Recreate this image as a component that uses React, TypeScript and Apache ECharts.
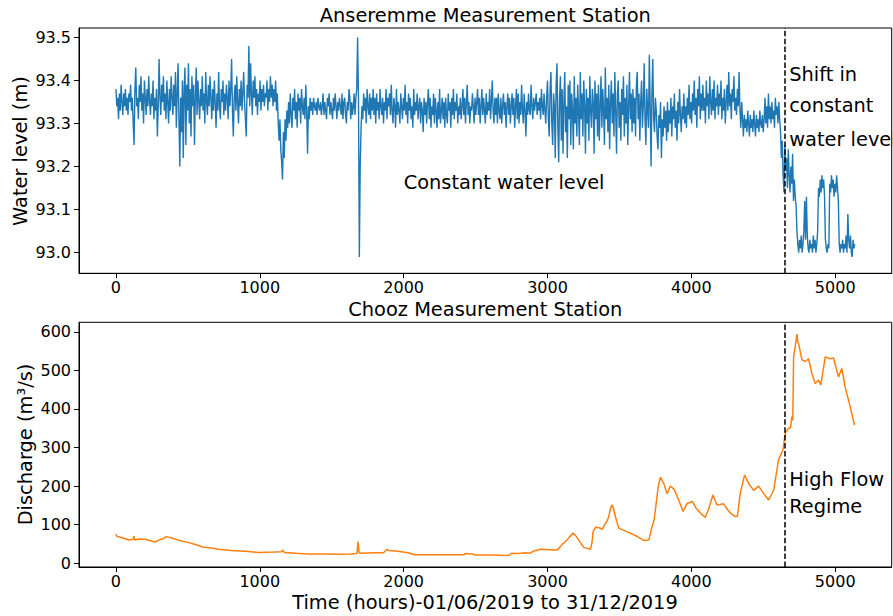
import React, { useEffect, useRef } from "react";
import * as echarts from "echarts";

// ---- axis ticks ----
const X_TICKS = [0, 1000, 2000, 3000, 4000, 5000];
const LEVEL_TICKS = [93.0, 93.1, 93.2, 93.3, 93.4, 93.5];
const DISCHARGE_TICKS = [0, 100, 200, 300, 400, 500, 600];

// ---- axis extents ----
const X_MIN = -256.8;
const X_MAX = 5392.8;
const LEVEL_MIN = 92.952;
const LEVEL_MAX = 93.522;
const DISCHARGE_MIN = -9.8;
const DISCHARGE_MAX = 624.5;

// ---- Anseremme water level (m), one reading every 6 hours from hour 0 ----
const SAMPLE_HOURS = 6;
const LEVEL_M = [
  // 0
  93.38,93.34,93.36,93.31,93.37,93.33,93.39,93.35,93.32,93.37,93.34,93.38,93.33,93.36,93.32,93.37,93.35,93.39,93.33,93.36,
  // 120
  93.30,93.25,93.38,93.43,93.34,93.36,93.31,93.39,93.35,93.41,93.33,93.37,93.30,93.40,93.36,93.32,93.38,93.34,93.41,93.35,
  // 240
  93.32,93.37,93.34,93.40,93.31,93.36,93.33,93.38,93.27,93.34,93.45,93.36,93.32,93.39,93.35,93.41,93.33,93.37,93.31,93.40,
  // 360
  93.35,93.30,93.38,93.33,93.41,93.36,93.32,93.39,93.34,93.42,93.29,93.37,93.44,93.31,93.20,93.36,93.28,93.40,93.22,93.38,
  // 480
  93.43,93.25,93.39,93.33,93.44,93.30,93.38,93.27,93.41,93.34,93.39,93.25,93.36,93.43,93.32,93.40,93.35,93.31,93.38,93.34,
  // 600
  93.41,93.33,93.37,93.30,93.42,93.35,93.32,93.39,93.34,93.41,93.36,93.31,93.38,93.33,93.40,93.35,93.29,93.37,93.33,93.42,
  // 720
  93.34,93.31,93.38,93.35,93.40,93.32,93.37,93.33,93.39,93.36,93.31,93.40,93.34,93.38,93.45,93.33,93.27,93.36,93.39,93.33,
  // 840
  93.41,93.35,93.30,93.38,93.34,93.40,93.33,93.37,93.42,93.35,93.31,93.27,93.39,93.36,93.48,93.34,93.44,93.37,93.32,93.40,
  // 960
  93.36,93.41,93.34,93.38,93.32,93.37,93.35,93.40,93.33,93.38,93.35,93.39,93.34,93.37,93.36,93.40,93.33,93.38,93.35,93.41,
  // 1080
  93.36,93.39,93.34,93.38,93.35,93.40,93.33,93.37,93.30,93.26,93.31,93.24,93.21,93.17,93.28,93.22,93.31,93.26,93.33,93.29,
  // 1200
  93.35,93.30,93.37,93.32,93.29,93.36,93.33,93.38,93.31,93.35,93.29,93.37,93.33,93.36,93.30,93.38,93.34,93.32,93.36,93.31,
  // 1320
  93.39,93.33,93.23,93.34,93.31,93.36,93.33,93.35,93.32,93.36,93.34,93.33,93.35,93.32,93.36,93.34,93.33,93.35,93.32,93.34,
  // 1440
  93.37,93.32,93.35,93.33,93.31,93.36,93.34,93.37,93.32,93.35,93.33,93.31,93.36,93.33,93.37,93.34,93.31,93.35,93.33,93.36,
  // 1560
  93.34,93.32,93.37,93.31,93.35,93.36,93.32,93.30,93.35,93.33,93.38,93.36,93.31,93.35,93.32,93.34,93.37,93.32,93.36,93.38,
  // 1680
  93.50,93.36,92.99,93.20,93.29,93.34,93.31,93.37,93.33,93.36,93.30,93.38,93.34,93.32,93.37,93.31,93.36,93.33,93.38,93.32,
  // 1800
  93.36,93.30,93.37,93.33,93.35,93.31,93.38,93.34,93.32,93.36,93.30,93.35,93.33,93.38,93.31,93.36,93.34,93.37,93.32,93.39,
  // 1920
  93.33,93.30,93.36,93.34,93.29,93.38,93.32,93.35,93.33,93.30,93.37,93.34,93.31,93.36,93.33,93.39,93.32,93.35,93.30,93.37,
  // 2040
  93.33,93.36,93.31,93.34,93.29,93.38,93.32,93.35,93.33,93.37,93.31,93.34,93.36,93.30,93.35,93.33,93.28,93.36,93.32,93.35,
  // 2160
  93.30,93.35,93.38,93.31,93.36,93.29,93.34,93.32,93.37,93.30,93.36,93.33,93.29,93.35,93.31,93.38,93.30,93.33,93.36,93.31,
  // 2280
  93.35,93.29,93.36,93.32,93.30,93.37,93.33,93.35,93.29,93.36,93.32,93.38,93.31,93.35,93.33,93.37,93.30,93.34,93.32,93.36,
  // 2400
  93.31,93.34,93.38,93.32,93.36,93.30,93.35,93.39,93.32,93.35,93.30,93.34,93.33,93.37,93.34,93.30,93.36,93.32,93.35,93.38,
  // 2520
  93.32,93.36,93.30,93.34,93.38,93.32,93.36,93.33,93.30,93.37,93.32,93.35,93.33,93.38,93.31,93.35,93.40,93.33,93.30,93.36,
  // 2640
  93.32,93.36,93.30,93.37,93.33,93.31,93.36,93.30,93.34,93.37,93.32,93.35,93.29,93.34,93.37,93.32,93.36,93.30,93.34,93.37,
  // 2760
  93.32,93.36,93.29,93.34,93.38,93.31,93.37,93.30,93.35,93.32,93.39,93.33,93.30,93.37,93.33,93.27,93.35,93.32,93.37,93.33,
  // 2880
  93.32,93.39,93.34,93.31,93.36,93.33,93.35,93.37,93.32,93.35,93.33,93.36,93.31,93.38,93.34,93.32,93.37,93.33,93.30,93.36,
  // 3000
  93.40,93.31,93.27,93.38,93.42,93.30,93.25,93.37,93.34,93.22,93.39,93.44,93.29,93.21,93.36,93.41,93.26,93.38,93.23,93.35,
  // 3120
  93.42,93.28,93.34,93.22,93.39,93.31,93.40,93.25,93.37,93.33,93.24,93.41,93.30,93.36,93.27,93.39,93.33,93.25,93.42,93.31,
  // 3240
  93.37,93.27,93.40,93.34,93.23,93.38,93.30,93.36,93.26,93.41,93.33,93.29,93.38,93.35,93.23,93.40,93.31,93.37,93.27,93.39,
  // 3360
  93.26,93.34,93.41,93.29,93.38,93.33,93.25,93.43,93.31,93.36,93.28,93.39,93.24,93.35,93.40,93.30,93.37,93.27,93.42,93.33,
  // 3480
  93.23,93.37,93.40,93.29,93.35,93.26,93.38,93.32,93.41,93.27,93.36,93.30,93.39,93.25,93.34,93.42,93.31,93.37,93.28,93.38,
  // 3600
  93.30,93.36,93.27,93.39,93.42,93.31,93.37,93.26,93.35,93.40,93.29,93.34,93.44,93.31,93.25,93.38,93.33,93.29,93.46,93.34,
  // 3720
  93.20,93.37,93.45,93.31,93.28,93.36,93.33,93.27,93.24,93.32,93.29,93.35,93.22,93.31,93.27,93.34,93.29,93.33,93.26,93.35,
  // 3840
  93.28,93.33,93.30,93.36,93.27,93.34,93.31,93.37,93.29,93.33,93.26,93.35,93.30,93.38,93.32,93.28,93.34,93.31,93.37,93.30,
  // 3960
  93.34,93.29,93.36,93.32,93.39,93.31,93.35,93.30,93.37,93.33,93.40,93.32,93.36,93.29,93.38,93.34,93.41,93.31,93.37,93.33,
  // 4080
  93.39,93.33,93.36,93.30,93.40,93.34,93.37,93.31,93.41,93.35,93.32,93.38,93.33,93.40,93.31,93.36,93.34,93.39,93.32,93.37,
  // 4200
  93.34,93.40,93.31,93.36,93.33,93.38,93.30,93.35,93.39,93.33,93.42,93.34,93.37,93.31,93.38,93.35,93.41,93.33,93.36,93.32,
  // 4320
  93.38,93.34,93.42,93.33,93.29,93.35,93.31,93.27,93.32,93.29,93.31,93.28,93.33,93.30,93.27,93.32,93.29,93.31,93.28,93.33,
  // 4440
  93.30,93.27,93.32,93.29,93.31,93.28,93.33,93.30,93.29,93.32,93.28,93.31,93.36,93.30,93.34,93.29,93.37,93.31,93.34,93.30,
  // 4560
  93.35,93.31,93.33,93.29,93.36,93.32,93.34,93.30,93.35,93.31,93.28,93.22,93.26,93.18,93.14,93.25,93.19,93.22,93.15,93.24,
  // 4680
  93.18,93.14,93.20,93.16,93.23,93.12,93.17,93.13,93.11,93.05,93.02,93.00,93.03,93.01,93.04,93.00,93.02,93.05,93.12,93.03,
  // 4800
  93.13,93.04,93.01,93.00,93.03,93.01,93.02,93.00,93.04,93.01,93.03,93.00,93.02,93.05,93.15,93.13,93.17,93.14,93.18,93.15,
  // 4920
  93.17,93.13,93.03,93.01,93.00,93.02,93.01,93.16,93.14,93.18,93.15,93.17,93.13,93.16,93.14,93.18,93.15,93.12,93.02,93.00,
  // 5040
  93.02,93.01,93.03,93.00,93.02,93.01,93.04,93.00,93.09,93.03,93.01,93.04,93.00,92.99,93.03,93.01,93.02,
];

// ---- Chooz discharge (m3/s): [hour, value] ----
const DISCHARGE = [
  [0,76],[6,70],[24,68],[60,64],[90,60],[120,62],[126,70],[132,60],[160,63],[200,62],[240,58],[270,55],
  [300,60],[330,64],[350,69],[370,67],[400,64],[450,58],[500,54],[540,50],[576,46],[600,42],[650,40],
  [715,36],[800,33],[900,31],[993,28],[1100,29],[1150,30],[1160,34],[1170,28],[1250,26],[1340,24],
  [1450,24],[1550,23],[1630,24],[1675,25],[1683,56],[1690,28],[1700,26],[1800,27],[1860,27],[1884,36],
  [1900,33],[1960,31],[2030,27],[2076,22],[2200,22],[2300,22],[2420,22],[2428,25],[2480,24],[2497,21],
  [2600,21],[2729,20],[2752,26],[2800,25],[2845,27],[2880,26],[2900,31],[2951,36],[3020,35],[3066,34],
  [3090,43],[3105,50],[3125,56],[3150,67],[3178,78],[3195,72],[3217,60],[3252,41],[3299,36],[3310,55],
  [3317,82],[3333,93],[3360,92],[3380,88],[3403,104],[3415,110],[3426,121],[3440,145],[3449,151],
  [3460,140],[3472,121],[3495,91],[3530,85],[3576,78],[3620,70],[3669,59],[3704,60],[3727,95],[3740,110],
  [3750,138],[3770,200],[3785,223],[3796,215],[3808,207],[3831,180],[3854,200],[3870,195],[3882,190],
  [3912,164],[3942,134],[3970,155],[4009,160],[4030,144],[4063,130],[4097,119],[4120,140],[4150,177],
  [4178,151],[4200,152],[4225,154],[4250,140],[4271,130],[4306,121],[4320,122],[4340,181],[4370,229],
  [4398,207],[4433,189],[4468,200],[4502,181],[4537,164],[4560,180],[4572,189],[4590,230],[4606,268],
  [4637,294],[4653,337],[4676,350],[4690,352],[4699,380],[4705,370],[4711,535],[4722,561],[4734,594],
  [4740,575],[4745,570],[4769,527],[4792,523],[4815,530],[4838,492],[4861,466],[4884,475],[4900,462],
  [4931,535],[4965,530],[4988,532],[5023,483],[5046,505],[5069,457],[5104,406],[5134,358],
];

const REGIME_SHIFT_HOUR = 4650;

const FONT = "DejaVu Sans";
const TXT = 19.4;
const TICK = 16;

function axisX(gridIndex: number) {
  return {
    type: "value",
    gridIndex,
    min: X_MIN,
    max: X_MAX,
    splitLine: { show: false },
    axisLine: { show: true, onZero: false, lineStyle: { color: "#000", width: 1 } },
    axisTick: { show: true, length: 5, lineStyle: { color: "#000", width: 1 }, customValues: X_TICKS },
    axisLabel: {
      color: "#000",
      fontSize: TICK,
      fontFamily: FONT,
      margin: 6,
      customValues: X_TICKS,
      formatter: (v: number) => String(v),
    },
  };
}

function axisY(gridIndex: number, min: number, max: number, ticks: number[], digits: number) {
  return {
    type: "value",
    gridIndex,
    min,
    max,
    splitLine: { show: false },
    axisLine: { show: true, onZero: false, lineStyle: { color: "#000", width: 1 } },
    axisTick: { show: true, length: 5, lineStyle: { color: "#000", width: 1 }, customValues: ticks },
    axisLabel: {
      color: "#000",
      fontSize: TICK,
      fontFamily: FONT,
      margin: 8,
      customValues: ticks,
      formatter: (v: number) => v.toFixed(digits),
    },
  };
}

function shiftLine() {
  return {
    silent: true,
    symbol: "none",
    label: { show: false },
    lineStyle: { color: "#000", type: [5.5, 2.4], width: 1.5 },
    data: [{ xAxis: REGIME_SHIFT_HOUR }],
  };
}

export default function App() {
  const ref = useRef<HTMLDivElement>(null);
  useEffect(() => {
    if (!ref.current) return;
    const chart = echarts.init(ref.current, null, { renderer: "svg" });
    const levelData = LEVEL_M.map((v, i) => [i * SAMPLE_HOURS, v]);
    chart.setOption({
      animation: false,
      backgroundColor: "#fff",
      grid: [
        { left: 79, right: 1.3, top: 28, height: 245.3, show: true, borderColor: "#000", borderWidth: 1 },
        { left: 79, right: 1.3, top: 322.3, height: 244.7, show: true, borderColor: "#000", borderWidth: 1 },
      ],
      xAxis: [axisX(0), axisX(1)],
      yAxis: [
        axisY(0, LEVEL_MIN, LEVEL_MAX, LEVEL_TICKS, 1),
        axisY(1, DISCHARGE_MIN, DISCHARGE_MAX, DISCHARGE_TICKS, 0),
      ],
      series: [
        {
          type: "line",
          xAxisIndex: 0,
          yAxisIndex: 0,
          data: levelData,
          showSymbol: false,
          lineStyle: { color: "#1f77b4", width: 1.4 },
          markLine: shiftLine(),
        },
        {
          type: "line",
          xAxisIndex: 1,
          yAxisIndex: 1,
          data: DISCHARGE,
          showSymbol: false,
          lineStyle: { color: "#ff7f0e", width: 1.5 },
          markLine: shiftLine(),
        },
      ],
    });

    const p = (g: number, x: number, y: number) =>
      chart.convertToPixel({ gridIndex: g }, [x, y]) as number[];
    const t = (x: number, y: number, text: string, align = "left", rotation = 0) => ({
      type: "text",
      x,
      y,
      rotation,
      style: {
        text,
        fill: "#000",
        font: `${TXT}px "${FONT}"`,
        textAlign: align,
        textVerticalAlign: "middle",
      },
    });
    const c1 = p(0, 2000, 93.164);
    const s1 = p(0, 4680, 93.413);
    const s2 = p(0, 4680, 93.343);
    const s3 = p(0, 4680, 93.264);
    const h1 = p(1, 4680, 218);
    const h2 = p(1, 4680, 147);
    chart.setOption({
      graphic: [
        t(485.3, 15, "Anseremme Measurement Station", "center"),
        t(485.3, 309.5, "Chooz Measurement Station", "center"),
        t(20, 151, "Water level (m)", "center", Math.PI / 2),
        t(25, 444.5, "Discharge (m³/s)", "center", Math.PI / 2),
        t(485, 602, "Time (hours)-01/06/2019 to 31/12/2019", "center"),
        t(c1[0], c1[1], "Constant water level"),
        t(s1[0], s1[1], "Shift in"),
        t(s2[0], s2[1], "constant"),
        t(s3[0], s3[1], "water level"),
        t(h1[0], h1[1], "High Flow"),
        t(h2[0], h2[1], "Regime"),
      ],
    });
    return () => chart.dispose();
  }, []);
  return (
    <div
      ref={ref}
      style={{ position: "fixed", left: 0, top: 0, width: 893, height: 616 }}
    />
  );
}
